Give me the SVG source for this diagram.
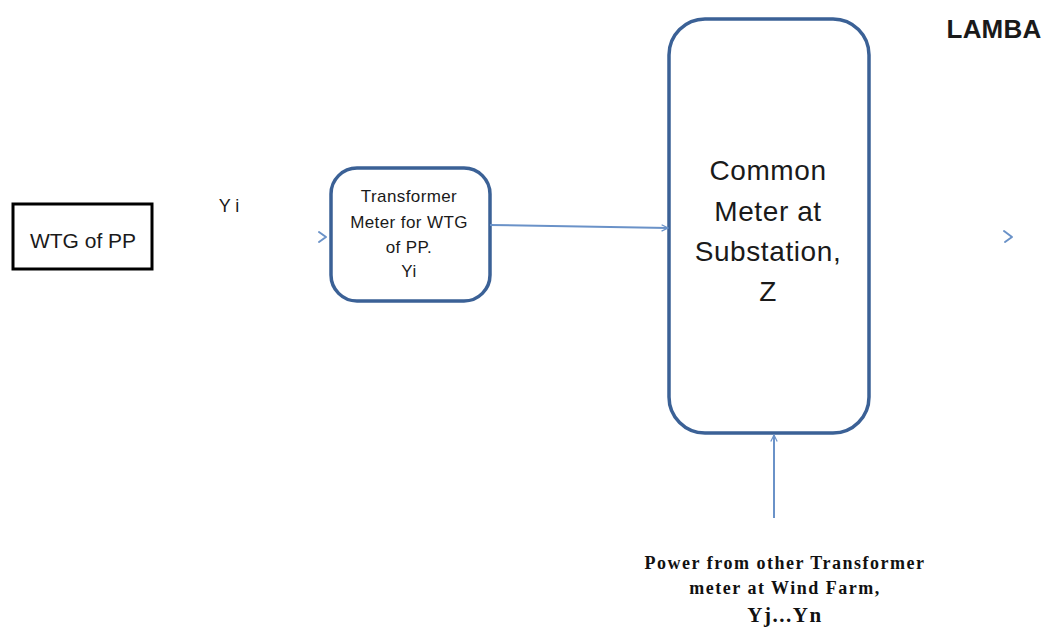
<svg xmlns="http://www.w3.org/2000/svg" width="1053" height="627" viewBox="0 0 1053 627">
<defs>
<style>
.box{fill:#fff;stroke:#3b6196;stroke-width:3.5}
.conn{stroke:#6a92c8;stroke-width:2;fill:none}
.chev{stroke:#6a92c8;stroke-width:2;fill:none;stroke-linecap:round;stroke-linejoin:round}
.sans{font-family:"Liberation Sans",Arial,sans-serif;fill:#1a1a1a;text-anchor:middle}
.serif{font-family:"Liberation Serif","Times New Roman",serif;fill:#111;text-anchor:middle;font-weight:bold}
</style>
<marker id="arr" viewBox="0 0 10 10" refX="9" refY="5" markerWidth="8" markerHeight="8" orient="auto" markerUnits="userSpaceOnUse">
<path d="M1,1 L9,5 L1,9" fill="none" stroke="#6a92c8" stroke-width="1.5"/>
</marker>
</defs>
<rect width="1053" height="627" fill="#fff"/>
<g id="wtg">
<rect x="13" y="204" width="139" height="65" fill="#fff" stroke="#000" stroke-width="3"/>
<text x="83" y="248" class="sans" font-size="21">WTG of PP</text>
</g>
<g id="label-yi">
<text x="229" y="212" class="sans" font-size="18">Y i</text>
</g>
<g id="transformer">
<rect class="box" x="331" y="168" width="159" height="133" rx="26" ry="26"/>
<text class="sans" font-size="17" letter-spacing="0.4"><tspan x="409" y="202">Transformer</tspan><tspan x="409" y="228">Meter for WTG</tspan><tspan x="409" y="253">of PP.</tspan><tspan x="409" y="277">Yi</tspan></text>
</g>
<g id="common">
<rect class="box" x="669" y="19" width="200" height="414" rx="36" ry="36"/>
<text class="sans" font-size="28" letter-spacing="0.6"><tspan x="768" y="180">Common</tspan><tspan x="768" y="221">Meter at</tspan><tspan x="768" y="261">Substation,</tspan><tspan x="768" y="301">Z</tspan></text>
</g>
<g id="lamba">
<text x="994" y="38" class="sans" font-size="26" font-weight="bold" fill="#000" letter-spacing="0.2">LAMBA</text>
</g>
<g id="other">
<text class="serif" font-size="18" letter-spacing="1.5"><tspan x="785" y="569">Power from other Transformer</tspan><tspan x="785" y="594">meter at Wind Farm,</tspan><tspan x="785" y="622" font-size="21">Yj...Yn</tspan></text>
</g>
<g id="connectors">
<path class="chev" d="M319,232 L326,237 L319,242"/>
<path class="conn" d="M490,225 L668,228" marker-end="url(#arr)"/>
<path class="chev" d="M1004,231 L1012,237 L1005,242"/>
<path class="conn" d="M774,518 L774,435" marker-end="url(#arr)"/>
</g>
</svg>
